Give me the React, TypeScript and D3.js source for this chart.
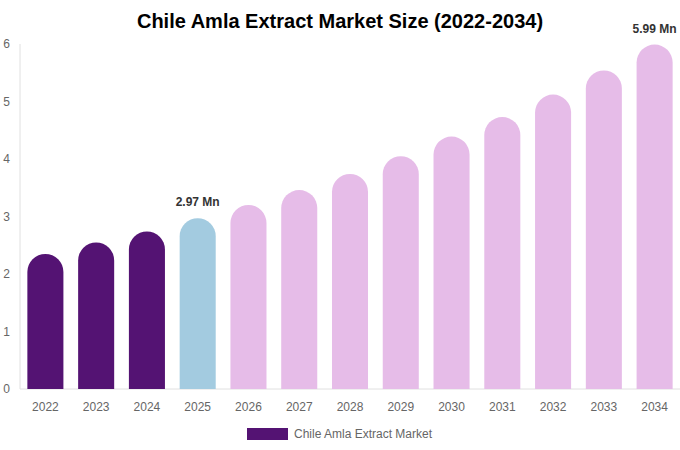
import { useRef, useEffect } from "react";
import * as d3 from "d3";

const W = 680;
const H = 450;
const PAD = { top: 44, right: 0, bottom: 61, left: 20 };

const years = ["2022", "2023", "2024", "2025", "2026", "2027", "2028", "2029", "2030", "2031", "2032", "2033", "2034"];
const values = [2.35, 2.55, 2.74, 2.97, 3.2, 3.46, 3.74, 4.05, 4.39, 4.73, 5.12, 5.54, 5.99];
const yTicks = [0, 1, 2, 3, 4, 5, 6];
const labelled = ["2025", "2034"];

const colorFor = (year: string) => {
  const y = +year;
  if (y < 2025) return "#541373";
  if (y === 2025) return "#a3cbe0";
  return "#e6bce8";
};

export default function App() {
  const svgRef = useRef<SVGSVGElement>(null);

  useEffect(() => {
    const svg = d3.select(svgRef.current);
    if (!svg.node()) return;
    svg.selectAll("*").remove();

    const font = "'Liberation Sans', Arial, sans-serif";

    const x = d3
      .scaleBand()
      .domain(years)
      .range([PAD.left, W - PAD.right])
      .paddingInner(0.29)
      .paddingOuter(0.145);

    const y = d3
      .scaleLinear()
      .domain([0, 6])
      .range([H - PAD.bottom, PAD.top]);

    // title
    svg
      .append("text")
      .attr("x", W / 2)
      .attr("y", 28)
      .attr("text-anchor", "middle")
      .style("font-family", font)
      .style("font-size", "20px")
      .style("font-weight", "bold")
      .style("fill", "#000")
      .text("Chile Amla Extract Market Size (2022-2034)");

    // axes lines
    svg
      .append("line")
      .attr("x1", PAD.left)
      .attr("x2", PAD.left)
      .attr("y1", y(6))
      .attr("y2", y(0))
      .attr("stroke", "#e0e0e0");
    svg
      .append("line")
      .attr("x1", PAD.left)
      .attr("x2", W - PAD.right)
      .attr("y1", y(0))
      .attr("y2", y(0))
      .attr("stroke", "#e0e0e0");

    // y tick labels
    svg
      .selectAll(".ytick")
      .data(yTicks)
      .enter()
      .append("text")
      .attr("x", 10)
      .attr("y", (d) => y(d) + 4)
      .attr("text-anchor", "end")
      .style("font-family", font)
      .style("font-size", "12px")
      .style("fill", "#666")
      .text((d) => d);

    // bars with rounded tops
    const bw = x.bandwidth();
    const r = bw / 2;
    svg
      .selectAll(".bar")
      .data(years)
      .enter()
      .append("path")
      .attr("fill", (d) => colorFor(d))
      .attr("d", (d, i) => {
        const x0 = x(d)!;
        const top = y(values[i]);
        const bottom = y(0);
        return `M${x0},${bottom}V${top + r}A${r},${r} 0 0 1 ${x0 + bw},${top + r}V${bottom}Z`;
      });

    // x tick labels
    svg
      .selectAll(".xtick")
      .data(years)
      .enter()
      .append("text")
      .attr("x", (d) => x(d)! + bw / 2)
      .attr("y", y(0) + 22)
      .attr("text-anchor", "middle")
      .style("font-family", font)
      .style("font-size", "12px")
      .style("fill", "#666")
      .text((d) => d);

    // value labels
    svg
      .selectAll(".vlabel")
      .data(years.filter((d) => labelled.includes(d)))
      .enter()
      .append("text")
      .attr("x", (d) => x(d)! + bw / 2)
      .attr("y", (d) => y(values[years.indexOf(d)]) - 12)
      .attr("text-anchor", "middle")
      .style("font-family", font)
      .style("font-size", "12px")
      .style("font-weight", "bold")
      .style("fill", "#333")
      .text((d) => `${values[years.indexOf(d)].toFixed(2)} Mn`);

    // legend
    svg
      .append("rect")
      .attr("x", 247)
      .attr("y", 428)
      .attr("width", 41)
      .attr("height", 12)
      .attr("fill", "#541373");
    svg
      .append("text")
      .attr("x", 294)
      .attr("y", 438)
      .style("font-family", font)
      .style("font-size", "12px")
      .style("fill", "#666")
      .text("Chile Amla Extract Market");
  }, []);

  return (
    <svg
      ref={svgRef}
      width={W}
      height={H}
      style={{ position: "absolute", left: 0, top: 0, background: "#fff" }}
    />
  );
}
